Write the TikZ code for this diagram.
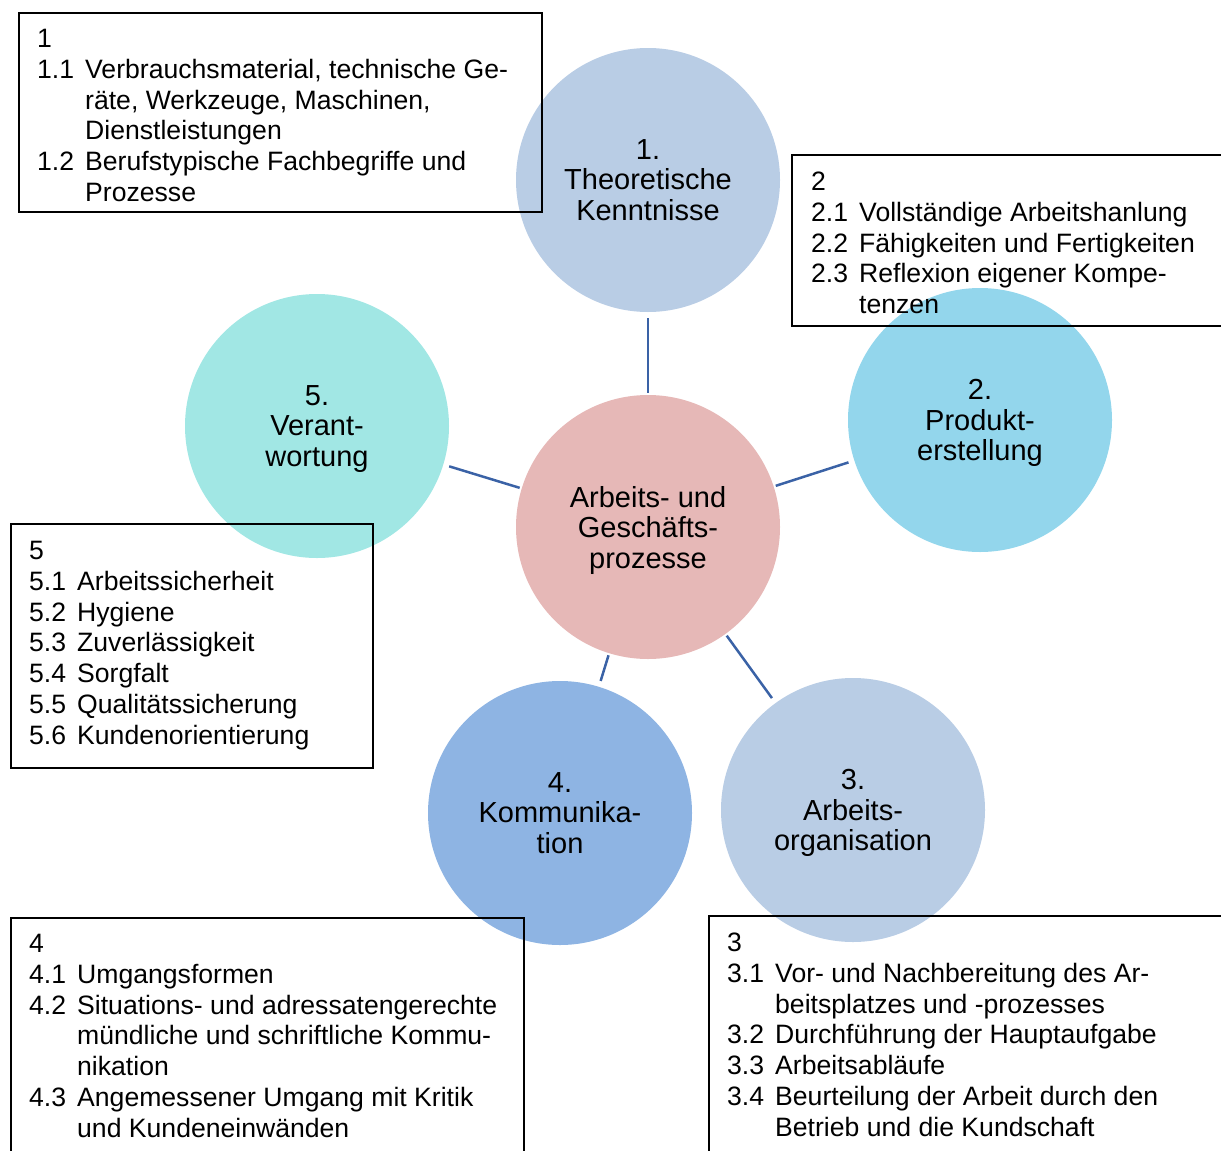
\documentclass[tikz,border=0pt]{standalone}
\usepackage{fontspec}
\setmainfont{Liberation Sans}
\usepackage{array}
\definecolor{hubpink}{HTML}{E6B8B7}
\definecolor{paleblue}{HTML}{B9CDE5}
\definecolor{skyblue}{HTML}{93D6EC}
\definecolor{midblue}{HTML}{8EB4E3}
\definecolor{aqua}{HTML}{A1E7E4}
\definecolor{linkblue}{HTML}{3A62A6}
\begin{document}
\begin{tikzpicture}[x=1pt,y=-1pt,
  bubble/.style={circle, minimum size=264pt, inner sep=0pt, align=center,
    font=\fontsize{29pt}{30.5pt}\selectfont},
  link/.style={draw=linkblue, line width=2.5pt, shorten <=2pt, shorten >=6pt},
  listbox/.style={draw=black, line width=1.6pt, anchor=north west, inner sep=0pt},
  listtext/.style={anchor=base west, inner sep=0pt,
    font=\fontsize{26.6pt}{30.8pt}\selectfont}]
\clip (0,0) rectangle (1221,1151);

% circles (descenders of the last line are smashed so the text sits centred)
\node[bubble, fill=hubpink]  (hub) at (648,527) {Arbeits- und\\Geschäfts-\\\smash{prozesse}};
\node[bubble, fill=paleblue] (k1)  at (648,180) {1.\\Theoretische\\Kenntnisse};
\node[bubble, fill=skyblue]  (k2)  at (980,420) {2.\\Produkt-\\\smash{erstellung}};
\node[bubble, fill=paleblue] (k3)  at (853,810) {3.\\Arbeits-\\\smash{organisation}};
\node[bubble, fill=midblue]  (k4)  at (560,813) {4.\\Kommunika-\\tion};
\node[bubble, fill=aqua]     (k5)  at (317,426) {5.\\Verant-\\\smash{wortung}};

% spokes
\foreach \k in {k1,k2,k3,k4,k5}
  \draw[link] (hub) -- (\k);

% list frames
\node[listbox, minimum width=523pt, minimum height=199pt] (b1) at (18,12) {};
\node[listbox, minimum width=430pt, minimum height=171pt] (b2) at (791,154) {};
\node[listbox, minimum width=520pt, minimum height=245pt] (b3) at (708,915) {};
\node[listbox, minimum width=513pt, minimum height=240pt] (b4) at (10,917) {};
\node[listbox, minimum width=362pt, minimum height=244pt] (b5) at (10,523) {};

% list contents
\node[listtext] (t1) at (37,47.5) {\begin{tabular}[t]{@{}p{48pt}@{}l@{}}
1 & \\
1.1 & Verbrauchsmaterial, technische Ge-\\
    & räte, Werkzeuge, Maschinen,\\
    & Dienstleistungen\\
1.2 & Berufstypische Fachbegriffe und\\
    & Prozesse
\end{tabular}};

\node[listtext] (t2) at (811,190.5) {\begin{tabular}[t]{@{}p{48pt}@{}l@{}}
2 & \\
2.1 & Vollständige Arbeitshanlung\\
2.2 & Fähigkeiten und Fertigkeiten\\
2.3 & Reflexion eigener Kompe-\\
    & tenzen
\end{tabular}};

\node[listtext] (t3) at (727,951.5) {\begin{tabular}[t]{@{}p{48pt}@{}l@{}}
3 & \\
3.1 & Vor- und Nachbereitung des Ar-\\
    & beitsplatzes und -prozesses\\
3.2 & Durchführung der Hauptaufgabe\\
3.3 & Arbeitsabläufe\\
3.4 & Beurteilung der Arbeit durch den\\
    & Betrieb und die Kundschaft
\end{tabular}};

\node[listtext] (t4) at (29,952.5) {\begin{tabular}[t]{@{}p{48pt}@{}l@{}}
4 & \\
4.1 & Umgangsformen\\
4.2 & Situations- und adressatengerechte\\
    & mündliche und schriftliche Kommu-\\
    & nikation\\
4.3 & Angemessener Umgang mit Kritik\\
    & und Kundeneinwänden
\end{tabular}};

\node[listtext] (t5) at (29,559.5) {\begin{tabular}[t]{@{}p{48pt}@{}l@{}}
5 & \\
5.1 & Arbeitssicherheit\\
5.2 & Hygiene\\
5.3 & Zuverlässigkeit\\
5.4 & Sorgfalt\\
5.5 & Qualitätssicherung\\
5.6 & Kundenorientierung
\end{tabular}};
\end{tikzpicture}
\end{document}
